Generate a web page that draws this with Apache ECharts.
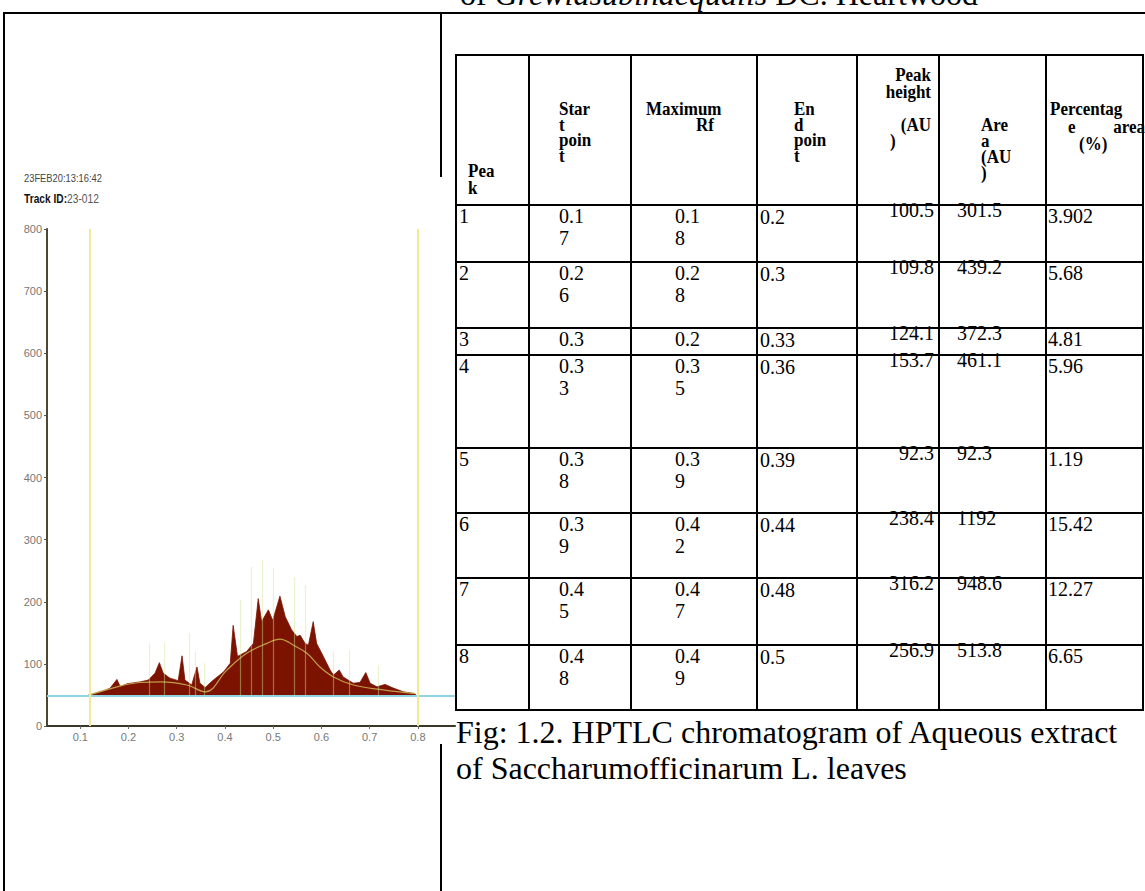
<!DOCTYPE html>
<html><head><meta charset="utf-8">
<script src="https://cdn.jsdelivr.net/npm/echarts@6/dist/echarts.min.js"></script>
<style>html,body{margin:0;padding:0;background:#fff;}#c{width:1145px;height:891px;}</style>
</head><body><div id="c"></div>
<script>
// ---------------- DATA ----------------
// Chromatogram profile (Rf, AU)
const profileRf = [0.115,0.141,0.162,0.176,0.183,0.197,0.224,0.241,0.255,0.264,0.272,0.286,0.303,0.311,0.317,0.331,0.342,0.348,0.359,0.376,0.397,0.411,0.417,0.426,0.445,0.459,0.469,0.476,0.490,0.499,0.514,0.525,0.538,0.549,0.556,0.566,0.573,0.583,0.590,0.604,0.618,0.625,0.637,0.645,0.666,0.680,0.692,0.701,0.715,0.732,0.749,0.770,0.794,0.797];
const profileAU = [49,54,61,75,63,68,71,74,85,102,85,77,73,113,74,66,95,69,62,74,87,101,162,112,120,133,205,168,187,170,209,176,155,144,146,133,130,168,133,112,90,82,90,79,69,70,86,69,63,67,61,55,52,48];
// Smoothed envelope
const fitRf = [0.115,0.176,0.224,0.266,0.321,0.359,0.404,0.445,0.487,0.514,0.542,0.570,0.597,0.625,0.666,0.728,0.794];
const fitAU = [49,63,70,71,66,55,90,117,133,140,130,117,95,79,66,58,52];
// Peak marker lines
const markerRf = [0.243,0.274,0.326,0.338,0.357,0.431,0.454,0.478,0.500,0.544,0.566,0.624,0.658,0.718];
const markerTop = [133,133,150,120,101,203,256,267,254,240,227,120,122,98];
const baselineAU = 48;
const windowRf = [0.115, 0.797];
const xTicks = [0.1,0.2,0.3,0.4,0.5,0.6,0.7,0.8];
const yMin = 0, yMax = 800, yStep = 100;
const stampText = '23FEB20:13:16:42';
const trackLabel = 'Track ID:';
const trackId = '23-012';

// Table
const headerLines = [
  ['Pea','k'],
  ['Star','t','poin','t'],
  ['Maximum','Rf'],
  ['En','d','poin','t'],
  ['Peak','height','','(AU',')'],
  ['Are','a','(AU',')'],
  ['Percentag','e  area','(%)']
];
const peakNo      = ['1','2','3','4','5','6','7','8'];
const startPoint  = ['0.17','0.26','0.3','0.33','0.38','0.39','0.45','0.48'];
const maxRf       = ['0.18','0.28','0.2','0.35','0.39','0.42','0.47','0.49'];
const endPoint    = ['0.2','0.3','0.33','0.36','0.39','0.44','0.48','0.5'];
const peakHeight  = ['100.5','109.8','124.1','153.7','92.3','238.4','316.2','256.9'];
const peakArea    = ['301.5','439.2','372.3','461.1','92.3','1192','948.6','513.8'];
const percentArea = ['3.902','5.68','4.81','5.96','1.19','15.42','12.27','6.65'];

const topText = ['of ', 'Grewiasubinaequalis', ' DC. Heartwood'];
const captionLines = ['Fig: 1.2. HPTLC chromatogram of Aqueous extract', 'of Saccharumofficinarum L. leaves'];

// ---------------- LAYOUT ----------------
const SERIF = "'Liberation Serif','Times New Roman',serif";
const SANS = "'Liberation Sans',Arial,sans-serif";
const colX = [456, 529, 631, 757, 857, 939, 1046, 1143];
const rowY = [55, 205, 262, 328, 355, 448, 513, 578, 645, 710];
const hdrLayout = [
  {xs:[468,468], y0:171, lh:17, al:['left','left']},
  {xs:[559,559,559,559], y0:109, lh:15.5, al:['left','left','left','left']},
  {xs:[646,714], y0:109, lh:16, al:['left','right']},
  {xs:[794,794,794,794], y0:109, lh:15.5, al:['left','left','left','left']},
  {xs:[931,931,931,931,890], y0:75, lh:16.5, al:['right','right','right','right','left']},
  {xs:[981,981,981,981], y0:125, lh:16, al:['left','left','left','left']},
  {xs:[1050,1068,1079], y0:109, lh:17.5, al:['left','left','left']}
];
const cellLayout = [
  {x:459, al:'left', dy:11, wrap:false},
  {x:559, al:'left', dy:11, wrap:true},
  {x:675, al:'left', dy:11, wrap:true},
  {x:760, al:'left', dy:12, wrap:false},
  {x:934, al:'right', dy:5, wrap:false},
  {x:957, al:'left', dy:5, wrap:false},
  {x:1048, al:'left', dy:11, wrap:false}
];
const HDR_FONT = 'bold 17px ' + SERIF, HDR_SY = 1.13;
const BODY_FONT = '20px ' + SERIF, BODY_SY = 1.05, BODY_LH = 22;

const g = [];
function ln(x1,y1,x2,y2,w,c){
  g.push({type:'line', silent:true, z:10, shape:{x1,y1,x2,y2}, style:{stroke:c||'#000', lineWidth:w||2}});
}
function tx(x,y,text,font,al,fill,sy,sx){
  g.push({type:'text', silent:true, z:11, x, y, scaleY:sy||1, scaleX:sx||1,
    style:{text, font, fill:fill||'#000', align:al||'left', textAlign:al||'left', verticalAlign:'middle', textVerticalAlign:'middle'}});
}

// document frame
ln(3,13,1145,13,2);
ln(4,12,4,891,2);
ln(441,13,441,177,2);
ln(441,744,441,891,2);

// cut-off top text
g.push({type:'text', silent:true, z:11, x:460, y:-6, style:{
  text:'{n|'+topText[0]+'}{i|'+topText[1]+'}{n|'+topText[2]+'}',
  font:'32px '+SERIF, fill:'#000', verticalAlign:'middle', textVerticalAlign:'middle',
  rich:{n:{fontFamily:SERIF, fontSize:32, fill:'#000', color:'#000'}, i:{fontFamily:SERIF, fontSize:32, fontStyle:'italic', fill:'#000', color:'#000'}}
}});

// chromatogram stamps
tx(24,178,stampText,'11px '+SANS,'left','#444',1.05,0.85);
g.push({type:'text', silent:true, z:11, x:24, y:199, scaleX:0.85, scaleY:1.05, style:{
  text:'{b|'+trackLabel+'}{n|'+trackId+'}', font:'12px '+SANS, verticalAlign:'middle', textVerticalAlign:'middle',
  rich:{b:{fontFamily:SANS, fontSize:12, fontWeight:'bold', fill:'#111', color:'#111'}, n:{fontFamily:SANS, fontSize:12, fill:'#555', color:'#555'}}
}});

// table lines
colX.forEach(x => ln(x, rowY[0], x, rowY[rowY.length-1], 2));
rowY.forEach(y => ln(colX[0]-1, y, colX[colX.length-1]+1, y, 2));

// header text
headerLines.forEach((lines, c) => {
  const L = hdrLayout[c];
  lines.forEach((t, i) => {
    if (!t) return;
    const y = L.y0 + i*L.lh;
    if (t.indexOf('  ') > 0) {
      const parts = t.split(/\s+/);
      tx(L.xs[i], y, parts[0], HDR_FONT, 'left', '#000', HDR_SY);
      tx(colX[c+1]+2, y, parts[parts.length-1], HDR_FONT, 'right', '#000', HDR_SY);
    } else {
      tx(L.xs[i], y, t, HDR_FONT, L.al[i], '#000', HDR_SY);
    }
  });
});

// body text
const cols = [peakNo, startPoint, maxRf, endPoint, peakHeight, peakArea, percentArea];
for (let r = 0; r < peakNo.length; r++) {
  const top = rowY[r+1];
  cols.forEach((arr, c) => {
    const L = cellLayout[c];
    const s = String(arr[r]);
    const parts = (L.wrap && s.length > 3) ? [s.slice(0,3), s.slice(3)] : [s];
    parts.forEach((p, i) => tx(L.x, top + L.dy + i*BODY_LH, p, BODY_FONT, L.al, '#000', BODY_SY));
  });
}

// caption
captionLines.forEach((t, i) => tx(456, 732 + i*36, t, '32px '+SERIF, 'left'));

// ---------------- CHART ----------------
const profile = profileRf.map((x,i)=>[x, profileAU[i]]);
const fit = fitRf.map((x,i)=>[x, fitAU[i]]);
const markers = markerRf.map((x,i)=>[{coord:[x, baselineAU]},{coord:[x, markerTop[i]]}]);

const chart = echarts.init(document.getElementById('c'), null, {renderer:'svg'});
chart.setOption({
  animation:false,
  grid:{left:47, top:229, width:408, height:497, containLabel:false},
  xAxis:{type:'value', min:0.031, max:0.877,
    axisLine:{show:true, lineStyle:{color:'#3b3727', width:2}},
    axisTick:{show:true, customValues:xTicks, length:3, lineStyle:{color:'#666'}},
    axisLabel:{customValues:xTicks, formatter:v=>(+v).toFixed(1), color:'#777', fontFamily:SANS, fontSize:11, margin:5},
    splitLine:{show:false}},
  yAxis:{type:'value', min:yMin, max:yMax, interval:yStep,
    axisLine:{show:true, lineStyle:{color:'#4f4830', width:2}},
    axisTick:{show:true, length:3, lineStyle:{color:'#555'}},
    axisLabel:{color:'#777', fontFamily:SANS, fontSize:11, margin:5},
    splitLine:{show:false}},
  series:[
    {type:'line', data:profile, symbol:'none', z:2,
      lineStyle:{color:'#7B1300', width:0.8},
      areaStyle:{color:'#7B1300', opacity:1, origin:baselineAU},
      markLine:{silent:true, symbol:'none', label:{show:false}, animation:false,
        data:[
          {yAxis:baselineAU, lineStyle:{color:'#8fd4e4', width:2, type:'solid'}},
          {xAxis:windowRf[0], lineStyle:{color:'#f2ea96', width:2, type:'solid'}},
          {xAxis:windowRf[1], lineStyle:{color:'#f2ea96', width:2, type:'solid'}}
        ]}},
    {type:'line', data:fit, symbol:'none', smooth:0.4, z:4,
      lineStyle:{color:'#c09e48', width:1.2},
      markLine:{silent:true, symbol:'none', label:{show:false}, animation:false,
        lineStyle:{color:'rgba(205,230,150,0.45)', width:1.2, type:'solid'},
        data:markers}}
  ],
  graphic:{elements:g}
});
</script>
</body></html>
